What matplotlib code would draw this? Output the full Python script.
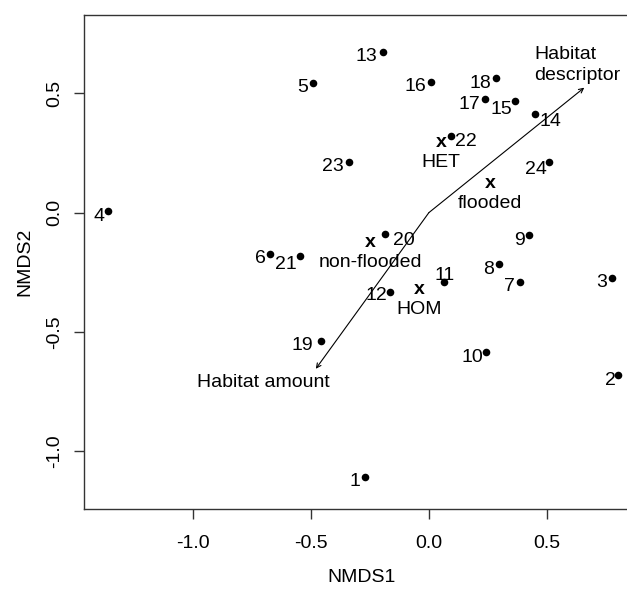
import matplotlib
matplotlib.use("Agg")
import matplotlib.pyplot as plt

plt.rcParams['font.family'] = ['Liberation Sans', 'DejaVu Sans']

# ---- data ----
site_ids = [str(i) for i in range(1, 25)]
nmds1 = [-0.270, 0.800, 0.775, -1.360, -0.489, -0.672, 0.387, 0.298, 0.426, 0.243,
         0.062, -0.164, -0.194, 0.450, 0.366, 0.008, 0.239, 0.285, -0.458, -0.185,
         -0.545, 0.092, -0.338, 0.507]
nmds2 = [-1.108, -0.681, -0.273, 0.005, 0.545, -0.174, -0.289, -0.217, -0.095, -0.583,
         -0.292, -0.331, 0.675, 0.412, 0.469, 0.549, 0.476, 0.563, -0.537, -0.088,
         -0.184, 0.322, 0.213, 0.213]

centroid_names = ["HET", "flooded", "non-flooded", "HOM"]
centroid_x = [0.051, 0.260, -0.249, -0.040]
centroid_y = [0.292, 0.122, -0.126, -0.324]

vector_names = ["Habitat\ndescriptor", "Habitat amount"]
vector_x = [0.658, -0.479]
vector_y = [0.524, -0.655]

x_ticks = [-1.0, -0.5, 0.0, 0.5]
y_ticks = [-1.0, -0.5, 0.0, 0.5]

# ---- label placement (pixels: dx, dy downward positive, ha) ----
default_off = (-5, 5, 'right')
label_off = {
    "13": (-6, 5, 'right'), "15": (-3.5, 8.7, 'right'), "14": (4.3, 7, 'left'),
    "22": (4.7, 6, 'left'), "24": (-1.6, 8, 'right'), "20": (7.7, 6.7, 'left'),
    "11": (0.7, -6.7, 'center'), "12": (-2.7, 4, 'right'), "21": (-3.3, 8.3, 'right'),
    "2": (-2.3, 5.7, 'right'), "10": (-3.3, 5.7, 'right'), "19": (-7.4, 5, 'right'),
    "6": (-4.3, 4.6, 'right'), "4": (-3.7, 5, 'right'),
}
PX2PT = 0.72
FS = 14

fig = plt.figure(figsize=(6.27, 5.90), dpi=100)
ax = fig.add_axes([84 / 627, (590 - 509) / 590, (639 - 84) / 627, (509 - 14.7) / 590])
ax.set_xlim(-1.461, 0.890)
ax.set_ylim(-1.243, 0.830)

ax.scatter(nmds1, nmds2, s=30, color='black', zorder=3, linewidths=0)
for sid, x, y in zip(site_ids, nmds1, nmds2):
    dx, dy, ha = label_off.get(sid, default_off)
    ax.annotate(sid, (x, y), xytext=(dx * PX2PT, -dy * PX2PT), textcoords='offset points',
                ha=ha, va='center', fontsize=FS, color='black', zorder=4)

# centroids
for name, x, y in zip(centroid_names, centroid_x, centroid_y):
    ax.text(x, y, 'x', ha='center', va='center', fontsize=FS, fontweight='bold', zorder=4)
    ax.annotate(name, (x, y), xytext=(0, -20 * PX2PT), textcoords='offset points',
                ha='center', va='center', fontsize=FS, zorder=4)

# vectors
for x, y in zip(vector_x, vector_y):
    ax.annotate('', xy=(x, y), xytext=(0, 0),
                arrowprops=dict(arrowstyle='->', lw=0.8, color='black',
                                mutation_scale=8, shrinkA=0, shrinkB=0))
ax.annotate(vector_names[0], (vector_x[0], vector_y[0]), xytext=(-50 * PX2PT, 23 * PX2PT),
            textcoords='offset points', ha='left', va='center', fontsize=FS, linespacing=1.3)
ax.annotate(vector_names[1], (vector_x[1], vector_y[1]), xytext=(-52 * PX2PT, -14 * PX2PT),
            textcoords='offset points', ha='center', va='center', fontsize=FS)

ax.set_xticks(x_ticks)
ax.set_xticklabels([f"{t:.1f}" for t in x_ticks])
ax.set_yticks(y_ticks)
ax.set_yticklabels([f"{t:.1f}" for t in y_ticks], rotation=90, va='center')
ax.tick_params(axis='both', labelsize=FS, length=7, width=1, color='#333333')
ax.tick_params(axis='x', pad=12)
ax.tick_params(axis='y', pad=8)
for sp in ax.spines.values():
    sp.set_linewidth(1.0)
    sp.set_color('#333333')

ax.set_xlabel("NMDS1", fontsize=FS, labelpad=12)
ax.set_ylabel("NMDS2", fontsize=FS, labelpad=9)

fig.savefig("out.png", dpi=100)
